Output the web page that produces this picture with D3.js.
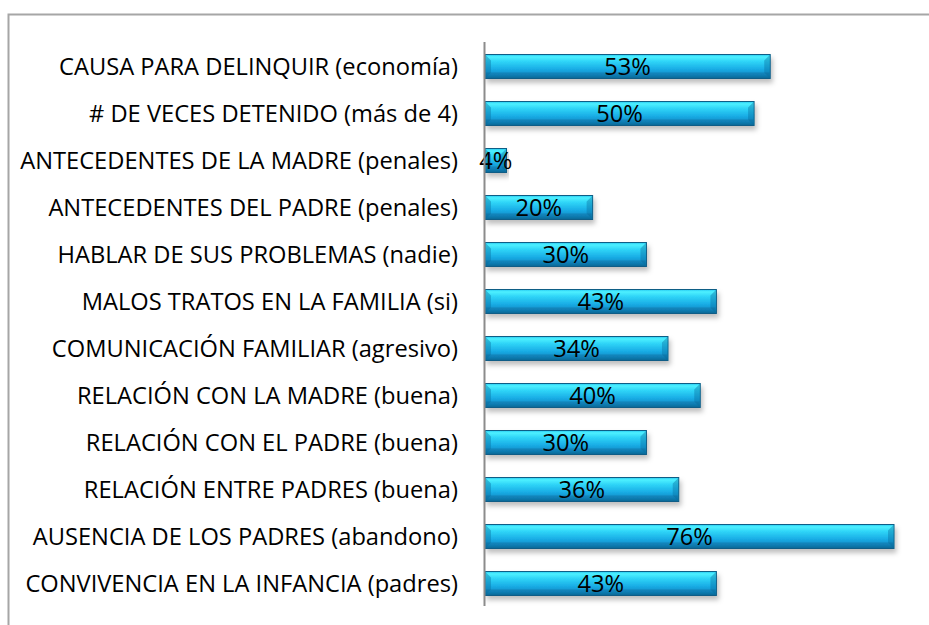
<!DOCTYPE html>
<html><head><meta charset="utf-8">
<script src="https://cdn.jsdelivr.net/npm/d3@7"></script>
<style>html,body{margin:0;padding:0;background:#fff;}svg{display:block;}</style>
</head><body>
<script>
const categories = [
  "CAUSA PARA DELINQUIR (economía)",
  "# DE VECES DETENIDO (más de 4)",
  "ANTECEDENTES DE LA MADRE (penales)",
  "ANTECEDENTES DEL PADRE (penales)",
  "HABLAR DE SUS PROBLEMAS (nadie)",
  "MALOS TRATOS EN LA FAMILIA (si)",
  "COMUNICACIÓN FAMILIAR (agresivo)",
  "RELACIÓN CON LA MADRE (buena)",
  "RELACIÓN CON EL PADRE (buena)",
  "RELACIÓN ENTRE PADRES (buena)",
  "AUSENCIA DE LOS PADRES (abandono)",
  "CONVIVENCIA EN LA INFANCIA (padres)"
];
const values = [53, 50, 4, 20, 30, 43, 34, 40, 30, 36, 76, 43];

const W = 929, H = 625;
const svg = d3.select("body").append("svg").attr("width", W).attr("height", H);
const defs = svg.append("defs");
const grad = defs.append("linearGradient").attr("id","barGrad").attr("x1",0).attr("y1",0).attr("x2",0).attr("y2",1);
[["0%","#28cdf4"],["10%","#4ef0ff"],["28%","#30d6f8"],["60%","#1aaee6"],["85%","#118dc8"],["100%","#0b6c9a"]]
  .forEach(([o,c])=>grad.append("stop").attr("offset",o).attr("stop-color",c));
const f = defs.append("filter").attr("id","shadow").attr("x","-5%").attr("y","-20%").attr("width","115%").attr("height","160%");
f.append("feDropShadow").attr("dx",2).attr("dy",4).attr("stdDeviation",2.5).attr("flood-color","#000").attr("flood-opacity",0.25);

// outer border (top & left visible)
svg.append("path").attr("d",`M8.5,${H} L8.5,14.5 L${W},14.5`).attr("fill","none").attr("stroke","#a6a6a6").attr("stroke-width",2);

const x0 = 485;
const x = d3.scaleLinear().domain([0, 76]).range([x0, 894]);
const y = d3.scaleBand().domain(categories).range([43, 607]).paddingInner(0.49).paddingOuter(0.245);

const font = "'Open Sans', sans-serif";

// labels
const yAxis = d3.axisLeft(y).tickSize(0).tickPadding(0);
const gy = svg.append("g").attr("transform",`translate(458,0)`).call(yAxis);
gy.select(".domain").remove();
const labels = gy.selectAll("text").attr("font-family",font).attr("font-size",20).attr("fill","#000").attr("dy","0.36em");
let maxW = 0; labels.each(function(){ maxW = Math.max(maxW, this.getComputedTextLength()); });
const fs = 20 * 438 / maxW;
labels.attr("font-size", fs);

// bars
const bars = svg.append("g").selectAll("g").data(categories).join("g");
bars.append("rect")
  .attr("x", x0).attr("y", d=>y(d)).attr("width", (d,i)=>x(values[i])-x0).attr("height", y.bandwidth())
  .attr("fill","url(#barGrad)").attr("stroke","#0b5d86").attr("stroke-width",1).attr("filter","url(#shadow)");
// bevel corners
const b = 6;
bars.append("path").attr("d",(d,i)=>{
  const yt=y(d), h=y.bandwidth(), xr=x(values[i]);
  const bw = Math.min(b, (xr-x0)/2);
  return `M${x0+0.5},${yt+0.5} L${x0+bw},${yt+bw} L${x0+bw},${yt+h-bw} L${x0+0.5},${yt+h-0.5}Z` +
         `M${xr-0.5},${yt+0.5} L${xr-bw},${yt+bw} L${xr-bw},${yt+h-bw} L${xr-0.5},${yt+h-0.5}Z`;
}).attr("fill","#0b6e9e").attr("opacity",0.4);
// bottom darker band
bars.append("rect").attr("x",x0+1).attr("y",d=>y(d)+y.bandwidth()-b).attr("width",(d,i)=>Math.max(0,x(values[i])-x0-2)).attr("height",b-0.5)
  .attr("fill","#0a5d88").attr("opacity",0.3);

// axis line
svg.append("line").attr("x1",484.5).attr("x2",484.5).attr("y1",42).attr("y2",606).attr("stroke","#8c8c8c").attr("stroke-width",2);

// value labels
bars.append("text")
  .attr("x",(d,i)=>(x0 + x(values[i]))/2).attr("y",d=>y(d)+y.bandwidth()/2).attr("dy","0.38em")
  .attr("text-anchor","middle").attr("font-family",font).attr("font-size",fs).attr("fill","#000")
  .text((d,i)=>values[i]+"%");
</script>
</body></html>
